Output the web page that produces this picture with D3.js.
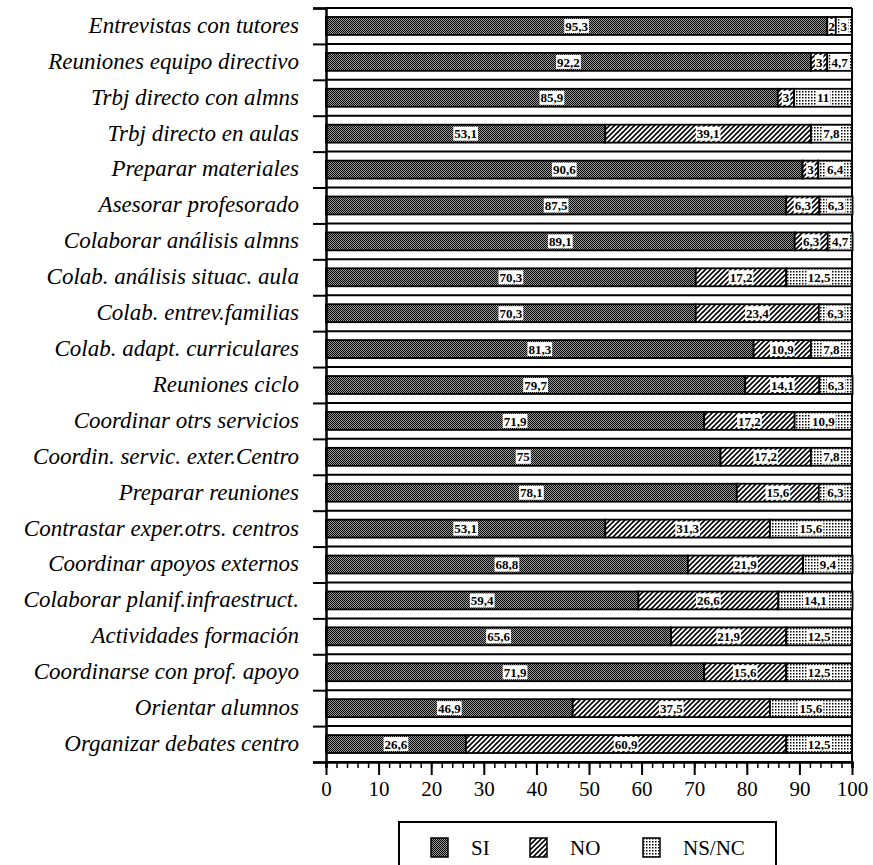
<!DOCTYPE html>
<html>
<head>
<meta charset="utf-8">
<script src="https://cdn.jsdelivr.net/npm/d3@7/dist/d3.min.js"></script>
<style>
  body { margin: 0; background: #fff; }
</style>
</head>
<body>
<div id="chart-area"></div>
<script>
// DATA
var categories = [
    "Entrevistas con tutores", "Reuniones equipo directivo", "Trbj directo con almns",
    "Trbj directo en aulas", "Preparar materiales", "Asesorar profesorado",
    "Colaborar análisis almns", "Colab. análisis situac. aula", "Colab. entrev.familias",
    "Colab. adapt. curriculares", "Reuniones ciclo", "Coordinar otrs servicios",
    "Coordin. servic. exter.Centro", "Preparar reuniones", "Contrastar exper.otrs. centros",
    "Coordinar apoyos externos", "Colaborar planif.infraestruct.", "Actividades formación",
    "Coordinarse con prof. apoyo", "Orientar alumnos", "Organizar debates centro"
];
var si   = [95.3, 92.2, 85.9, 53.1, 90.6, 87.5, 89.1, 70.3, 70.3, 81.3, 79.7, 71.9, 75, 78.1, 53.1, 68.8, 59.4, 65.6, 71.9, 46.9, 26.6];
var no   = [1.6, 3.1, 3.1, 39.1, 3, 6.3, 6.3, 17.2, 23.4, 10.9, 14.1, 17.2, 17.2, 15.6, 31.3, 21.9, 26.6, 21.9, 15.6, 37.5, 60.9];
var nsnc = [3.1, 4.7, 11, 7.8, 6.4, 6.3, 4.7, 12.5, 6.3, 7.8, 6.3, 10.9, 7.8, 6.3, 15.6, 9.4, 14.1, 12.5, 12.5, 15.6, 12.5];
var seriesKeys = ["si", "no", "nsnc"];
var seriesNames = ["SI", "NO", "NS/NC"];
var xTicks = [0, 10, 20, 30, 40, 50, 60, 70, 80, 90, 100];

var width = 873;
var height = 865;
var plot = { left: 326, right: 852, top: 8, bottom: 762 };
var serif = "'Liberation Serif', 'Times New Roman', serif";

var svg = d3.select("#chart-area")
    .append("svg")
    .attr("width", width)
    .attr("height", height);

// PATTERNS
var defs = svg.append("defs");
var pSi = defs.append("pattern").attr("id", "p-si")
    .attr("patternUnits", "userSpaceOnUse").attr("width", 2).attr("height", 2);
pSi.append("rect").attr("width", 2).attr("height", 2).attr("fill", "#9a9a9a");
pSi.append("rect").attr("width", 1).attr("height", 1).attr("fill", "#000");
pSi.append("rect").attr("x", 1).attr("y", 1).attr("width", 1).attr("height", 1).attr("fill", "#000");

var pNo = defs.append("pattern").attr("id", "p-no")
    .attr("patternUnits", "userSpaceOnUse").attr("width", 5).attr("height", 5);
pNo.append("rect").attr("width", 5).attr("height", 5).attr("fill", "#fff");
pNo.append("path").attr("d", "M-1,1 l2,-2 M0,5 l5,-5 M4,6 l2,-2")
    .attr("stroke", "#000").attr("stroke-width", 1.6);

var pNs = defs.append("pattern").attr("id", "p-ns")
    .attr("patternUnits", "userSpaceOnUse").attr("width", 3).attr("height", 3);
pNs.append("rect").attr("width", 3).attr("height", 3).attr("fill", "#fff");
pNs.append("rect").attr("x", 1).attr("y", 1).attr("width", 1.5).attr("height", 1.5).attr("fill", "#000");

var fills = { si: "url(#p-si)", no: "url(#p-no)", nsnc: "url(#p-ns)" };

// SCALES
var x = d3.scaleLinear().domain([0, 100]).range([plot.left, plot.right]);
var y = d3.scaleBand().domain(categories).range([plot.top, plot.bottom]);
var yEdge = d3.scaleLinear().domain([0, categories.length]).range([plot.top, plot.bottom]);

var rows = categories.map((c, i) => ({ cat: c, si: si[i], no: no[i], nsnc: nsnc[i] }));
var stacked = d3.stack().keys(seriesKeys)(rows);

// frame and gridlines at category boundaries
svg.append("g").selectAll("line")
    .data(d3.range(0, categories.length + 1))
    .enter().append("line")
    .attr("x1", plot.left).attr("x2", plot.right)
    .attr("y1", (d) => yEdge(d)).attr("y2", (d) => yEdge(d))
    .attr("stroke", "#000").attr("stroke-width", 2);
svg.append("line")
    .attr("x1", plot.right).attr("x2", plot.right)
    .attr("y1", plot.top).attr("y2", plot.bottom)
    .attr("stroke", "#000").attr("stroke-width", 2);

// BARS
var barH = y.bandwidth() * 0.5;
var layers = svg.append("g").selectAll("g.layer").data(stacked)
    .enter().append("g").attr("class", "layer")
    .attr("fill", (d) => fills[d.key]);

layers.selectAll("rect").data((d) => d)
    .enter().append("rect")
    .attr("x", (d) => x(d[0]))
    .attr("y", (d) => y(d.data.cat) + (y.bandwidth() - barH) / 2)
    .attr("width", (d) => x(d[1]) - x(d[0]))
    .attr("height", barH)
    .attr("stroke", "#000")
    .attr("stroke-width", 1.8);

// VALUE LABELS
function fmt(v) {
    if (v < 4) return d3.format(".0f")(v);
    return String(v).replace(".", ",");
}
stacked.forEach((layer) => {
    layer.forEach((d) => {
        var cx = (x(d[0]) + x(d[1])) / 2;
        var cy = y(d.data.cat) + y.bandwidth() / 2;
        var g = svg.append("g").attr("transform", "translate(" + cx + "," + cy + ")");
        var bg = g.append("rect").attr("fill", "#fff");
        var t = g.append("text")
            .attr("text-anchor", "middle")
            .attr("dy", "0.36em")
            .attr("font-family", serif)
            .attr("font-weight", "bold")
            .attr("font-size", "13px")
            .attr("fill", "#000")
            .text(fmt(d.data[layer.key]));
        var w = t.node().getComputedTextLength() + 2;
        var segW = x(d[1]) - x(d[0]) - 2;
        w = Math.min(w, segW);
        bg.attr("x", -w / 2).attr("y", -7).attr("width", w).attr("height", 14);
    });
});

// LEFT AXIS
var yAxisGroup = svg.append("g")
    .attr("transform", "translate(" + plot.left + ",0)")
    .call(d3.axisLeft(yEdge).tickValues(d3.range(0, categories.length + 1))
        .tickSize(13).tickFormat(""));
yAxisGroup.select(".domain").attr("stroke-width", 2.5);
yAxisGroup.selectAll(".tick line").attr("stroke-width", 2);

svg.append("g").selectAll("text").data(categories)
    .enter().append("text")
    .attr("x", 299)
    .attr("y", (d) => y(d) + y.bandwidth() / 2)
    .attr("dy", "0.3em")
    .attr("text-anchor", "end")
    .attr("font-family", serif)
    .attr("font-style", "italic")
    .attr("font-size", "23px")
    .attr("fill", "#000")
    .text((d) => d);

// BOTTOM AXIS
var minorGroup = svg.append("g")
    .attr("transform", "translate(0," + plot.bottom + ")")
    .call(d3.axisBottom(x).tickValues(d3.range(0, 101, 2)).tickSize(6).tickFormat(""));
minorGroup.select(".domain").attr("stroke-width", 2.5);
minorGroup.selectAll(".tick line").attr("stroke-width", 1.5);

var xAxisGroup = svg.append("g")
    .attr("transform", "translate(0," + plot.bottom + ")")
    .call(d3.axisBottom(x).tickValues(xTicks).tickSize(13).tickSizeOuter(0));
xAxisGroup.select(".domain").remove();
xAxisGroup.selectAll(".tick line").attr("stroke-width", 2);
xAxisGroup.selectAll("text")
    .attr("y", 19)
    .attr("font-family", serif)
    .attr("font-size", "21px")
    .attr("fill", "#000");

// LEGEND
var legend = svg.append("g");
legend.append("rect")
    .attr("x", 399).attr("y", 822).attr("width", 377).attr("height", 60)
    .attr("fill", "#fff").attr("stroke", "#000").attr("stroke-width", 2);
var legX = [431, 530, 643];
seriesKeys.forEach((k, i) => {
    legend.append("rect")
        .attr("x", legX[i]).attr("y", 838).attr("width", 17).attr("height", 19)
        .attr("fill", fills[k]).attr("stroke", "#000").attr("stroke-width", 1.5);
    legend.append("text")
        .attr("x", legX[i] + 40).attr("y", 855)
        .attr("font-family", serif)
        .attr("font-size", "21px")
        .attr("fill", "#000")
        .text(seriesNames[i]);
});
</script>
</body>
</html>
